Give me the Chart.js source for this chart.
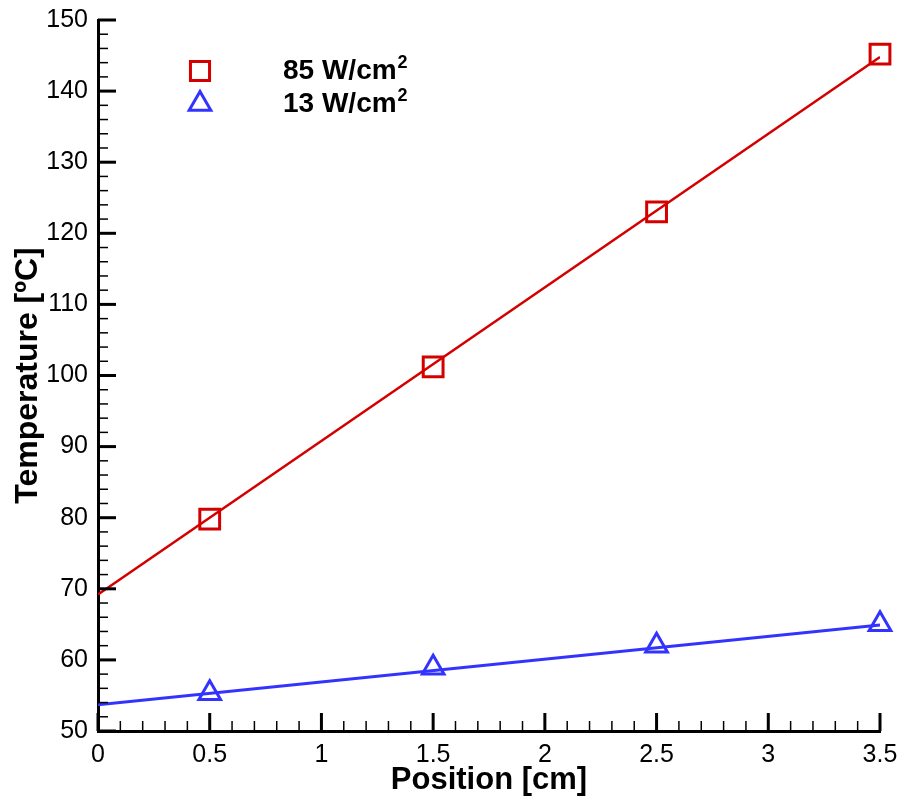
<!DOCTYPE html>
<html>
<head>
<meta charset="utf-8">
<title>Temperature vs Position</title>
<script src="https://cdn.jsdelivr.net/npm/chart.js@4.4.1/dist/chart.umd.min.js"></script>
<style>
  html, body { margin: 0; padding: 0; background: #fff; }
  #wrap { width: 901px; height: 799px; }
</style>
</head>
<body>
<div id="wrap"><canvas id="chart" width="901" height="799"></canvas></div>
<script>
// Measured points
const positions = [0.5, 1.5, 2.5, 3.5];
const temp85 = [79.8, 101.2, 123.0, 145.2];
const temp13 = [55.3, 58.9, 62.0, 65.0];

// Linear fit lines (end points)
const fitX = [0, 3.5];
const fit85 = [69.2, 144.8];
const fit13 = [53.7, 64.9];

const xTicks = [0, 0.5, 1, 1.5, 2, 2.5, 3, 3.5];
const yTicks = [50, 60, 70, 80, 90, 100, 110, 120, 130, 140, 150];

const seriesLabels = ['85 W/cm', '13 W/cm'];

const RED = '#d40000';
const BLUE = '#3333ff';
const FONT = '"Liberation Sans", Arial, sans-serif';

const toPts = (xs, ys) => xs.map((x, i) => ({ x: x, y: ys[i] }));

// inward ticks (major + minor), drawn from the scales
const innerTicks = {
    id: 'innerTicks',
    afterDatasetsDraw(chart) {
        const ctx = chart.ctx;
        const xs = chart.scales.x, ys = chart.scales.y;
        const area = chart.chartArea;
        ctx.save();
        ctx.strokeStyle = '#000';
        // x axis: minor every 0.1, major every 0.5
        for (let i = 0; i <= 35; i++) {
            const px = xs.getPixelForValue(i / 10);
            const major = i % 5 === 0;
            ctx.lineWidth = major ? 3 : 1.5;
            ctx.beginPath();
            ctx.moveTo(px, area.bottom);
            ctx.lineTo(px, area.bottom - (major ? 18 : 10));
            ctx.stroke();
        }
        // y axis: minor every 2, major every 10
        for (let v = 50; v <= 150; v += 2) {
            const py = ys.getPixelForValue(v);
            const major = v % 10 === 0;
            ctx.lineWidth = major ? 3 : 1.5;
            ctx.beginPath();
            ctx.moveTo(area.left, py);
            ctx.lineTo(area.left + (major ? 18 : 10), py);
            ctx.stroke();
        }
        ctx.restore();
    }
};

// legend drawn inside the plot, with superscript 2
const plotLegend = {
    id: 'plotLegend',
    afterDraw(chart) {
        const ctx = chart.ctx;
        const items = [
            { style: 'rect', r: 13.5, color: RED, label: seriesLabels[0], y: 71 },
            { style: 'triangle', r: 12.5, color: BLUE, label: seriesLabels[1], y: 104 }
        ];
        ctx.save();
        items.forEach(it => {
            ctx.fillStyle = 'rgba(0,0,0,0)';
            ctx.strokeStyle = it.color;
            ctx.lineWidth = 3;
            Chart.helpers.drawPoint(ctx, {
                pointStyle: it.style, radius: it.r, borderWidth: 3, rotation: 0
            }, 200, it.y);
            ctx.fillStyle = '#000';
            ctx.textBaseline = 'alphabetic';
            ctx.textAlign = 'left';
            ctx.font = 'bold 28px ' + FONT;
            const base = it.y + 8;
            ctx.fillText(it.label, 283, base);
            const w = ctx.measureText(it.label).width;
            ctx.font = 'bold 18px ' + FONT;
            ctx.fillText('2', 283 + w + 1, base - 11);
        });
        ctx.restore();
    }
};

new Chart(document.getElementById('chart'), {
    type: 'scatter',
    data: {
        datasets: [
            {
                label: 'fit 85',
                type: 'line',
                data: toPts(fitX, fit85),
                borderColor: RED,
                borderWidth: 2.5,
                pointRadius: 0,
                fill: false
            },
            {
                label: 'fit 13',
                type: 'line',
                data: toPts(fitX, fit13),
                borderColor: BLUE,
                borderWidth: 3,
                pointRadius: 0,
                fill: false
            },
            {
                label: seriesLabels[0],
                data: toPts(positions, temp85),
                pointStyle: 'rect',
                pointRadius: 14,
                pointBorderWidth: 3,
                pointBorderColor: RED,
                pointBackgroundColor: 'rgba(0,0,0,0)',
                showLine: false,
                clip: false
            },
            {
                label: seriesLabels[1],
                data: toPts(positions, temp13),
                pointStyle: 'triangle',
                pointRadius: 12.5,
                pointBorderWidth: 3,
                pointBorderColor: BLUE,
                pointBackgroundColor: 'rgba(0,0,0,0)',
                showLine: false,
                clip: false
            }
        ]
    },
    options: {
        responsive: false,
        animation: false,
        layout: { padding: { top: 20, right: 21, left: 0, bottom: 0 } },
        plugins: {
            legend: { display: false },
            tooltip: { enabled: false }
        },
        scales: {
            x: {
                type: 'linear',
                min: 0,
                max: 3.5,
                afterBuildTicks: s => { s.ticks = xTicks.map(v => ({ value: v })); },
                afterFit: s => { s.height = 68; s.paddingLeft = 0; s.paddingRight = 0; },
                grid: { display: false, drawTicks: false },
                border: { display: true, color: '#000', width: 3 },
                ticks: {
                    color: '#000',
                    padding: 9,
                    maxRotation: 0,
                    callback: v => String(v),
                    font: { family: FONT, size: 25 }
                },
                title: {
                    display: true,
                    text: 'Position [cm]',
                    color: '#000',
                    padding: { top: 0, bottom: 0 },
                    font: { family: FONT, size: 31, weight: 'bold' }
                }
            },
            y: {
                type: 'linear',
                min: 50,
                max: 150,
                afterBuildTicks: s => { s.ticks = yTicks.map(v => ({ value: v })); },
                afterFit: s => { s.width = 98; s.paddingTop = 0; s.paddingBottom = 0; },
                grid: { display: false, drawTicks: false },
                border: { display: true, color: '#000', width: 3 },
                ticks: {
                    color: '#000',
                    padding: 10,
                    callback: v => String(v),
                    font: { family: FONT, size: 25 }
                },
                title: {
                    display: true,
                    text: 'Temperature [ºC]',
                    color: '#000',
                    padding: { top: 9, bottom: 0 },
                    font: { family: FONT, size: 32, weight: 'bold' }
                }
            }
        }
    },
    plugins: [innerTicks, plotLegend]
});
</script>
</body>
</html>
